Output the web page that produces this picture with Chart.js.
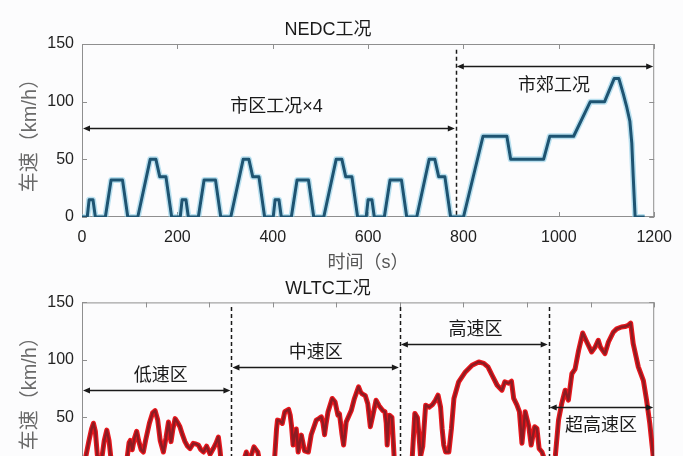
<!DOCTYPE html>
<html lang="zh">
<head>
  <meta charset="UTF-8">
  <title>NEDC / WLTC 工况</title>
  <script src="https://cdn.jsdelivr.net/npm/chart.js"></script>
  <style>
    html, body {
      margin: 0;
      padding: 0;
      width: 683px;
      height: 456px;
      overflow: hidden;
      background: #fcfcfd;
    }

    .panel {
      position: absolute;
      left: 0;
      width: 683px;
    }

    #topPanel { top: 0; height: 278px; }
    #bottomPanel { top: 272px; height: 258px; }
  </style>
</head>
<body>
  <div class="panel" id="topPanel"><canvas id="nedcChart"></canvas></div>
  <div class="panel" id="bottomPanel"><canvas id="wltcChart"></canvas></div>

  <script>
    // NEDC: 4 x urban (ECE-15) + extra-urban, breakpoints
    const nedcTime = [
      0, 11, 15, 23, 28, 49, 61, 85, 96, 117, 143, 155, 163, 176, 188,
      195, 206, 210, 218, 223, 244, 256, 280, 291, 312, 338, 350, 358, 371, 383,
      390, 401, 405, 413, 418, 439, 451, 475, 486, 507, 533, 545, 553, 566, 578,
      585, 596, 600, 608, 613, 634, 646, 670, 681, 702, 728, 740, 748, 761, 773,
      780, 800, 841, 891, 899, 968, 981, 1031, 1066, 1096, 1116, 1126,
      1135, 1142, 1149, 1153, 1156, 1160, 1180
    ];
    const nedcSpeed = [
      0, 0, 15, 15, 0, 0, 32, 32, 0, 0, 50, 50, 35, 35, 0,
      0, 0, 15, 15, 0, 0, 32, 32, 0, 0, 50, 50, 35, 35, 0,
      0, 0, 15, 15, 0, 0, 32, 32, 0, 0, 50, 50, 35, 35, 0,
      0, 0, 15, 15, 0, 0, 32, 32, 0, 0, 50, 50, 35, 35, 0,
      0, 0, 70, 70, 50, 50, 70, 70, 100, 100, 120, 120,
      107, 96, 83, 64, 35, 0, 0
    ];

    // WLTC, estimated from the visible part of the trace
    const wltcTime = [
      0, 6, 12, 22, 30, 36, 42, 48, 55, 62, 70, 78, 85, 92, 100,
      135, 142, 148, 152, 158, 165, 172, 178, 186, 193, 200, 212, 222, 230, 238,
      246, 256, 264, 272, 280, 286, 293, 300, 308, 316, 324, 332, 340, 350, 358,
      366, 374, 382, 392, 403, 413, 422, 429, 434, 440, 446, 470,
      500, 508, 517, 523, 530, 541, 547, 553, 560, 566, 600, 606, 612, 615, 622,
      630, 638, 650, 655, 659, 664, 669, 674, 680, 686, 690, 700, 712, 721, 737,
      745, 753, 758, 763, 768, 774, 787, 796, 805, 810, 818, 823, 831, 847, 857,
      870, 875, 880, 891, 899, 903, 907, 915, 925, 935, 946, 953, 957, 960, 963,
      967, 975, 979, 983, 988, 1000,
      1030, 1039, 1047, 1055, 1060, 1065, 1072, 1081, 1092, 1102, 1112, 1120, 1128,
      1133, 1138, 1144, 1154, 1162, 1170, 1185, 1206, 1227, 1248, 1264, 1277, 1290,
      1306, 1321, 1330, 1342, 1351, 1358, 1368, 1376, 1384, 1394, 1405, 1413, 1424,
      1431, 1438, 1447, 1457, 1462, 1468,
      1480, 1489, 1499, 1509, 1520, 1530, 1541, 1551, 1562, 1575, 1588, 1603, 1614,
      1624, 1631, 1645, 1656, 1671, 1682, 1697, 1708, 1718, 1726, 1734, 1750, 1766,
      1776, 1786, 1797, 1800
    ];
    const wltcSpeed = [
      0, 0, 16, 30, 40, 45, 38, 18, 5, 14, 30, 39, 30, 12, 0,
      0, 15, 28, 30, 22, 32, 38, 30, 22, 20, 30, 45, 54, 56, 48,
      30, 20, 32, 46, 29, 40, 49, 46, 42, 35, 29, 25, 23, 27.5, 27,
      26, 22, 20, 25, 18, 23, 28, 33, 22, 5, 0, 0,
      0, 12, 20, 12, 15, 24.5, 22, 20, 10, 0, 0, 15, 40, 47.7, 47,
      44.8, 55, 57, 52, 43, 26, 35, 40, 20, 30, 34.7, 21, 20, 35, 47.7,
      49, 50.5, 45, 35, 45, 55, 66.5, 63.6, 52, 53, 35, 26, 46, 56, 66.5,
      76.6, 73, 70.8, 69, 62, 52, 42, 52, 65, 60, 56, 55, 45, 26, 40,
      52, 50, 30, 10, 0, 0,
      0, 16, 53.5, 50, 35, 16, 25, 60.7, 59, 61, 65, 69.4, 59,
      40, 26, 20, 20, 40, 66.5, 81, 89.6, 95.4, 98.3, 97, 94, 86.7,
      78, 73.7, 81, 79.7, 81.5, 66.5, 61, 55, 27.5, 55, 43, 26, 42,
      40.5, 23, 20, 12, 0, 0,
      0, 16.5, 47.7, 62, 73.7, 65, 88, 92, 108, 123.4, 115.6, 107, 111,
      117, 111, 105.5, 115.6, 124, 127, 128.6, 129, 130, 132, 114, 94, 82,
      65, 45, 16, 5
    ];

    const speedTicks = [0, 50, 100, 150];

    const FONT = '"Liberation Sans", "Noto Sans CJK SC", sans-serif';

    function arrowHead(ctx, px, py, dir) {
      ctx.beginPath();
      ctx.moveTo(px, py);
      ctx.lineTo(px + dir * 7, py - 3);
      ctx.lineTo(px + dir * 7, py + 3);
      ctx.closePath();
      ctx.fill();
    }

    // MATLAB-like box with inward ticks, plus phase dividers and span arrows
    const framePlugin = {
      id: 'frame',
      beforeDatasetsDraw(chart) {
        const { ctx, chartArea: a, scales: { x, y } } = chart;
        ctx.save();
        ctx.strokeStyle = '#8f8f8f';
        ctx.lineWidth = 1;
        ctx.strokeRect(a.left + 0.5, a.top + 0.5, a.width - 1, a.height - 1);
        ctx.beginPath();
        x.ticks.forEach(t => {
          const px = Math.round(x.getPixelForValue(t.value)) + 0.5;
          ctx.moveTo(px, a.bottom); ctx.lineTo(px, a.bottom - 5);
          ctx.moveTo(px, a.top); ctx.lineTo(px, a.top + 5);
        });
        y.ticks.forEach(t => {
          const py = Math.round(y.getPixelForValue(t.value)) + 0.5;
          ctx.moveTo(a.left, py); ctx.lineTo(a.left + 5, py);
          ctx.moveTo(a.right, py); ctx.lineTo(a.right - 5, py);
        });
        ctx.stroke();
        ctx.restore();
      },
      afterDatasetsDraw(chart, args, opts) {
        const { ctx, scales: { x, y } } = chart;
        ctx.save();
        ctx.strokeStyle = '#1a1a1a';
        ctx.fillStyle = '#1a1a1a';

        ctx.lineWidth = 1.5;
        ctx.setLineDash([4, 3]);
        (opts.dividers || []).forEach(d => {
          const px = Math.round(x.getPixelForValue(d.x)) + 0.5;
          ctx.beginPath();
          ctx.moveTo(px, y.getPixelForValue(d.from));
          ctx.lineTo(px, y.getPixelForValue(0));
          ctx.stroke();
        });

        ctx.setLineDash([]);
        ctx.lineWidth = 1.3;
        ctx.font = '18px ' + FONT;
        ctx.textAlign = 'center';
        ctx.textBaseline = 'middle';
        (opts.spans || []).forEach(s => {
          const x1 = x.getPixelForValue(s.from) + 1;
          const x2 = x.getPixelForValue(s.to) - 1;
          const py = Math.round(y.getPixelForValue(s.y)) + 0.5;
          ctx.beginPath();
          ctx.moveTo(x1 + 4, py);
          ctx.lineTo(x2 - 4, py);
          ctx.stroke();
          arrowHead(ctx, x1, py, 1);
          arrowHead(ctx, x2, py, -1);
          ctx.fillText(s.label, x.getPixelForValue(s.labelX), y.getPixelForValue(s.labelY));
        });
        ctx.restore();
      }
    };

    function makeChart(id, cfg) {
      const points = cfg.time.map((t, i) => ({ x: t, y: cfg.speed[i] }));
      return new Chart(document.getElementById(id), {
        type: 'line',
        data: {
          datasets: [
            // first dataset is drawn on top: dark core over the light halo
            { data: points, borderColor: cfg.color, borderWidth: cfg.width, pointRadius: 0, borderJoinStyle: 'round' },
            { data: points, borderColor: cfg.glow, borderWidth: cfg.glowWidth, pointRadius: 0, borderJoinStyle: 'round' }
          ]
        },
        options: {
          responsive: true,
          maintainAspectRatio: false,
          animation: false,
          events: [],
          layout: { padding: { left: 0, right: 27, top: 0, bottom: 0 } },
          plugins: {
            legend: { display: false },
            tooltip: { enabled: false },
            title: {
              display: true,
              text: cfg.title,
              color: '#1a1a1a',
              font: { family: FONT, size: 18, weight: 'normal' },
              padding: cfg.titlePadding
            },
            frame: { dividers: cfg.dividers, spans: cfg.spans }
          },
          scales: {
            x: {
              type: 'linear',
              min: 0,
              max: cfg.xMax,
              grid: { display: false, drawTicks: false },
              border: { display: false },
              ticks: {
                stepSize: 200,
                color: '#222',
                padding: 11,
                maxRotation: 0,
                font: { family: FONT, size: 16 },
                callback: v => String(v)
              },
              title: {
                display: !!cfg.xTitle,
                text: cfg.xTitle || '',
                color: '#555',
                font: { family: FONT, size: 18 },
                padding: { top: 0, bottom: 4 }
              },
              afterFit: s => { s.height = cfg.xBox; }
            },
            y: {
              min: 0,
              max: 150,
              grid: { display: false, drawTicks: false },
              border: { display: false },
              afterBuildTicks: s => { s.ticks = speedTicks.map(v => ({ value: v })); },
              ticks: {
                color: '#222',
                padding: 8,
                font: { family: FONT, size: 16 },
                callback: v => String(v)
              },
              title: {
                display: true,
                text: '车速（km/h）',
                color: '#6a6a6a',
                font: { family: FONT, size: 20 },
                padding: { top: 18, bottom: 0 }
              },
              afterFit: s => { s.width = 82; }
            }
          }
        },
        plugins: [framePlugin]
      });
    }

    makeChart('nedcChart', {
      title: 'NEDC工况',
      titlePadding: { top: 19, bottom: 3.4 },
      xTitle: '时间（s）',
      xBox: 61,
      xMax: 1200,
      time: nedcTime,
      speed: nedcSpeed,
      color: '#1e5472',
      width: 3,
      glow: 'rgba(130, 200, 228, 0.55)',
      glowWidth: 6,
      dividers: [{ x: 784, from: 145 }],
      spans: [
        { from: 0, to: 784, y: 77.4, label: '市区工况×4', labelX: 408, labelY: 95.6 },
        { from: 784, to: 1200, y: 131, label: '市郊工况', labelX: 990, labelY: 113.6 }
      ]
    });

    makeChart('wltcChart', {
      title: 'WLTC工况',
      titlePadding: { top: 6, bottom: 2.8 },
      xTitle: '时间（s）',
      xBox: 55,
      xMax: 1800,
      time: wltcTime,
      speed: wltcSpeed,
      color: '#8e1b22',
      width: 2.4,
      glow: '#e8161c',
      glowWidth: 5,
      dividers: [{ x: 470, from: 146 }, { x: 1000, from: 146 }, { x: 1468, from: 146 }],
      spans: [
        { from: 0, to: 470, y: 74.3, label: '低速区', labelX: 248, labelY: 85.8 },
        { from: 470, to: 1000, y: 93.6, label: '中速区', labelX: 735, labelY: 106 },
        { from: 1000, to: 1468, y: 113.6, label: '高速区', labelX: 1238, labelY: 126.3 },
        { from: 1468, to: 1800, y: 58.7, label: '超高速区', labelX: 1633, labelY: 42.5 }
      ]
    });
  </script>
</body>
</html>
